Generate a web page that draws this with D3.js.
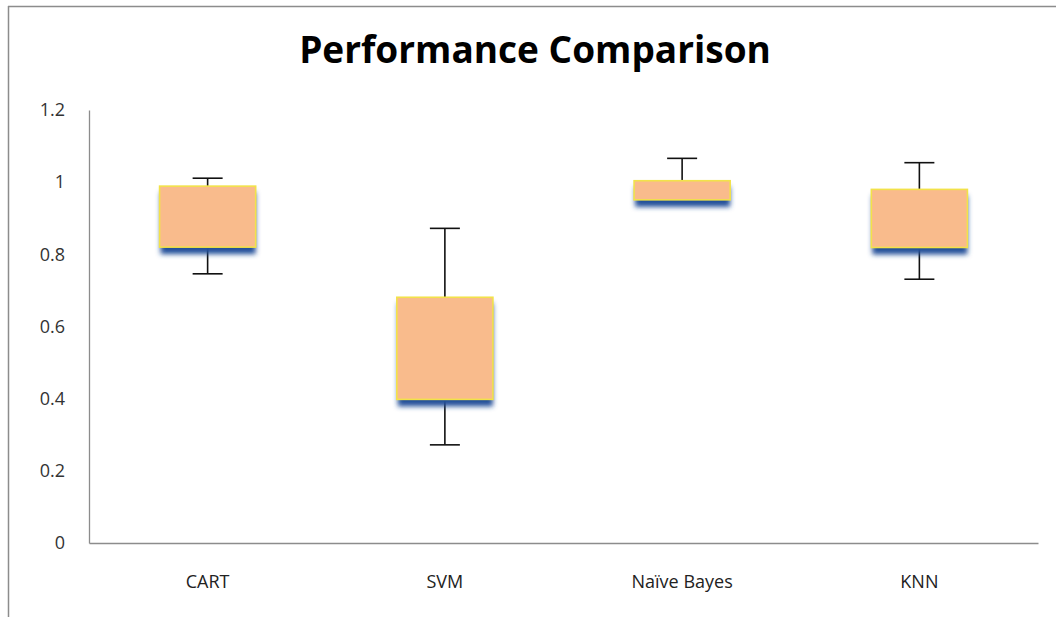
<!DOCTYPE html>
<html><head><meta charset="utf-8">
<script src="https://cdn.jsdelivr.net/npm/d3@7"></script>
<style>body{margin:0;background:#fff}svg{display:block}</style>
</head><body>
<script>
const categories = ["CART", "SVM", "Naïve Bayes", "KNN"];
const whiskerLow = [0.746, 0.272, 0.951, 0.731];
const boxLow     = [0.820, 0.398, 0.951, 0.819];
const boxHigh    = [0.989, 0.681, 1.004, 0.980];
const whiskerHigh= [1.011, 0.872, 1.066, 1.054];
const yTicks = [0, 0.2, 0.4, 0.6, 0.8, 1, 1.2];
const yTickLabels = ["0", "0.2", "0.4", "0.6", "0.8", "1", "1.2"];
const title = "Performance Comparison";

const W = 1056, H = 617;
const svg = d3.select("body").append("svg").attr("width", W).attr("height", H);
const defs = svg.append("defs");
const f = defs.append("filter").attr("id","blur").attr("x","-20%").attr("y","-50%").attr("width","140%").attr("height","200%");
f.append("feGaussianBlur").attr("stdDeviation", 2.4);

// frame
svg.append("line").attr("x1",8.5).attr("x2",8.5).attr("y1",6).attr("y2",H).attr("stroke","#8c8c8c").attr("stroke-width",1.5);
svg.append("line").attr("x1",8).attr("x2",W).attr("y1",6.5).attr("y2",6.5).attr("stroke","#8c8c8c").attr("stroke-width",1.5);

const x0 = 89, x1 = 1038, yTop = 110, yBot = 543;
const x = d3.scaleBand().domain(categories).range([x0, x1]).paddingInner(0.595).paddingOuter(0.2975);
const y = d3.scaleLinear().domain([0, 1.2]).range([yBot, yTop]);

svg.append("text").attr("x", 535).attr("y", 63).attr("text-anchor","middle")
  .attr("font-family","Open Sans, sans-serif").attr("font-weight","bold").attr("font-size",37)
  .attr("fill","#000").text(title);

// axes
const yAxis = svg.append("g").attr("transform",`translate(${x0},0)`)
  .call(d3.axisLeft(y).tickValues(yTicks).tickFormat((d,i)=>yTickLabels[i]).tickSize(0).tickPadding(24));
yAxis.select(".domain").attr("stroke","#8c8c8c").attr("stroke-width",1.3);
yAxis.selectAll("text").attr("font-family","Open Sans, sans-serif").attr("font-size",18).attr("fill","#333");

const xAxis = svg.append("g").attr("transform",`translate(0,${yBot})`)
  .call(d3.axisBottom(x).tickSize(0).tickPadding(32));
xAxis.select(".domain").attr("stroke","#8c8c8c").attr("stroke-width",1.3);
xAxis.selectAll("text").attr("font-family","Open Sans, sans-serif").attr("font-size",18).attr("fill","#222");

const data = categories.map((c,i)=>({c, wl:whiskerLow[i], bl:boxLow[i], bh:boxHigh[i], wh:whiskerHigh[i]}));
const g = svg.append("g");
const bw = x.bandwidth();
const cap = 30;

data.forEach(d=>{
  const cx = x(d.c) + bw/2;
  // whiskers
  g.append("line").attr("x1",cx).attr("x2",cx).attr("y1",y(d.wh)).attr("y2",y(d.bh)).attr("stroke","#111").attr("stroke-width",1.6);
  g.append("line").attr("x1",cx-cap/2).attr("x2",cx+cap/2).attr("y1",y(d.wh)).attr("y2",y(d.wh)).attr("stroke","#111").attr("stroke-width",1.6);
  if (d.wl < d.bl) {
    g.append("line").attr("x1",cx).attr("x2",cx).attr("y1",y(d.bl)).attr("y2",y(d.wl)).attr("stroke","#111").attr("stroke-width",1.6);
    g.append("line").attr("x1",cx-cap/2).attr("x2",cx+cap/2).attr("y1",y(d.wl)).attr("y2",y(d.wl)).attr("stroke","#111").attr("stroke-width",1.6);
  }
  // shadow
  g.append("rect").attr("x",x(d.c)+1).attr("width",bw-1).attr("y",y(d.bh)+6).attr("height",y(d.bl)-y(d.bh)+1)
    .attr("fill","#24509a").attr("filter","url(#blur)");
  // box
  g.append("rect").attr("x",x(d.c)).attr("width",bw).attr("y",y(d.bh)).attr("height",y(d.bl)-y(d.bh))
    .attr("fill","#f9bb8c").attr("stroke","#f2e24a").attr("stroke-width",1.6);
});
</script>
</body></html>
